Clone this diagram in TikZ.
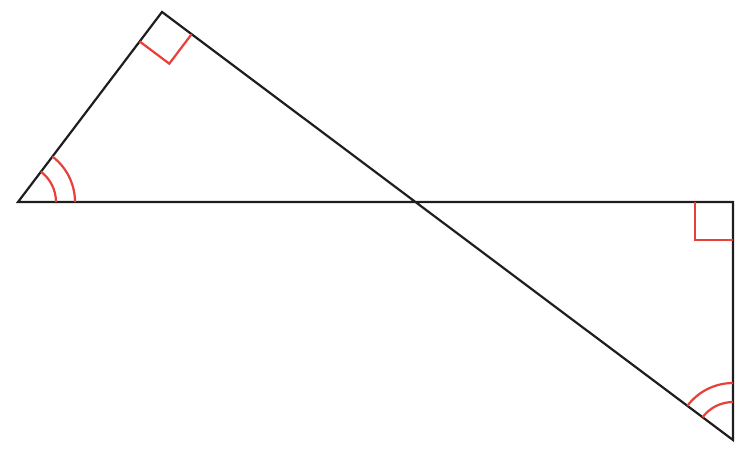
\documentclass[tikz,border=0pt]{standalone}
\usetikzlibrary{calc}
\definecolor{markred}{RGB}{232,64,56}
\definecolor{edgeblack}{RGB}{30,30,30}
\begin{document}
\begin{tikzpicture}[x=1pt,y=-1pt,
  edge/.style={line width=2.2pt,draw=edgeblack,line join=miter},
  redmark/.style={line width=2.2pt,draw=markred,line join=miter}]
\useasboundingbox (0,0) rectangle (746,474);
\coordinate (A) at (18,202);
\coordinate (T) at (162,12);
\coordinate (R) at (733,202);
\coordinate (B) at (733,440);
\draw[edge] (A) -- (R) -- (B) -- (T) -- cycle;
% right angle at T
\draw[redmark] ($(T)!37pt!(A)$) -- ($($(T)!37pt!(A)$)+($(T)!37pt!(B)$)-(T)$) -- ($(T)!37pt!(B)$);
% right angle at R
\draw[redmark] ($(R)+(-38,0)$) -- ($(R)+(-38,38)$) -- ($(R)+(0,38)$);
% angle arcs at A
\draw[redmark] ($(A)+(38,0)$) arc[start angle=0,end angle=-52.8,radius=38];
\draw[redmark] ($(A)+(57,0)$) arc[start angle=0,end angle=-52.8,radius=57];
% angle arcs at B
\draw[redmark] ($(B)+(0,-38)$) arc[start angle=-90,end angle=-143.1,radius=38];
\draw[redmark] ($(B)+(0,-57)$) arc[start angle=-90,end angle=-143.1,radius=57];
\end{tikzpicture}
\end{document}
